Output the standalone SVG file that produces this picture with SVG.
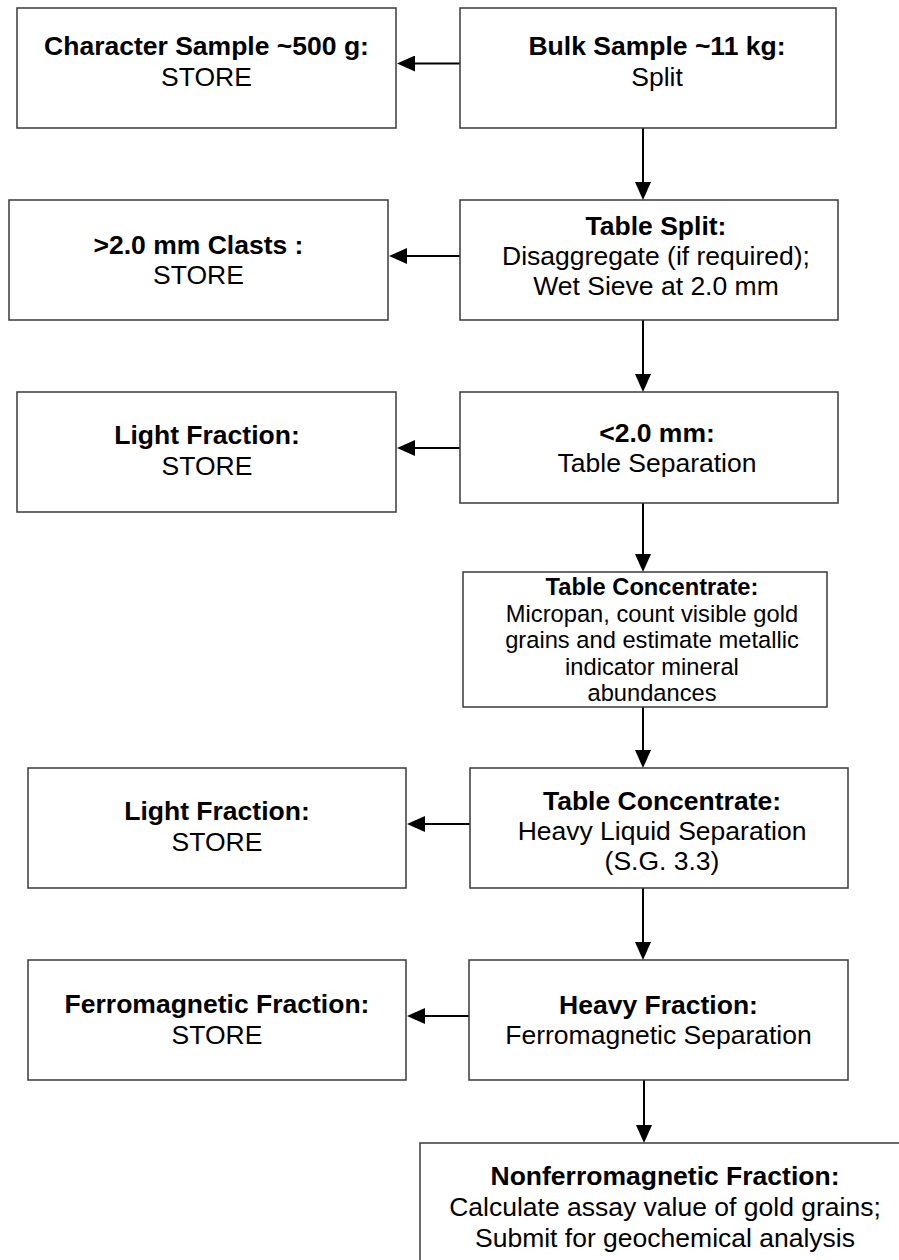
<svg xmlns="http://www.w3.org/2000/svg" width="899" height="1260" viewBox="0 0 899 1260">
<style>
.box{fill:#fff;stroke:#3a3a3a;stroke-width:1.5}
.t{font-family:"Liberation Sans",Arial,sans-serif;font-size:26.5px;fill:#000;text-anchor:middle}
.s{font-size:23.7px}
.b{font-weight:bold}
.c{fill:none;stroke:#000;stroke-width:2}
</style>
<defs>
<marker id="ah" viewBox="0 0 18 16" refX="8" refY="8" markerWidth="18" markerHeight="16" markerUnits="userSpaceOnUse" orient="auto">
<path d="M0,0 L18,8 L0,16 z" fill="#000"/>
</marker>
</defs>
<rect width="899" height="1260" fill="#fff"/>
<g id="connectors">
<line class="c" x1="460" y1="63.5" x2="407" y2="63.5" marker-end="url(#ah)"/>
<line class="c" x1="643" y1="128" x2="643" y2="190" marker-end="url(#ah)"/>
<line class="c" x1="460" y1="256" x2="399" y2="256" marker-end="url(#ah)"/>
<line class="c" x1="643" y1="320" x2="643" y2="382" marker-end="url(#ah)"/>
<line class="c" x1="460" y1="448" x2="407" y2="448" marker-end="url(#ah)"/>
<line class="c" x1="643" y1="503" x2="643" y2="562" marker-end="url(#ah)"/>
<line class="c" x1="643" y1="707" x2="643" y2="758" marker-end="url(#ah)"/>
<line class="c" x1="470" y1="824" x2="417" y2="824" marker-end="url(#ah)"/>
<line class="c" x1="643" y1="888" x2="643" y2="950" marker-end="url(#ah)"/>
<line class="c" x1="469" y1="1016" x2="417" y2="1016" marker-end="url(#ah)"/>
<line class="c" x1="644" y1="1080" x2="644" y2="1133" marker-end="url(#ah)"/>
</g>
<g id="character">
<rect class="box" x="17" y="8" width="379" height="120"/>
<text class="t b" x="206.5" y="55">Character Sample ~500 g:</text>
<text class="t" x="206.5" y="86">STORE</text>
</g>
<g id="bulk">
<rect class="box" x="460" y="8" width="376" height="120"/>
<text class="t b" x="657" y="55">Bulk Sample ~11 kg:</text>
<text class="t" x="657" y="86">Split</text>
</g>
<g id="clasts">
<rect class="box" x="9" y="200" width="379" height="120"/>
<text class="t b" x="198.5" y="254">&gt;2.0 mm Clasts :</text>
<text class="t" x="198.5" y="284">STORE</text>
</g>
<g id="tablesplit">
<rect class="box" x="460" y="200" width="378" height="120"/>
<text class="t b" x="656" y="235">Table Split:</text>
<text class="t" x="656" y="265">Disaggregate (if required);</text>
<text class="t" x="656" y="295">Wet Sieve at 2.0 mm</text>
</g>
<g id="light1">
<rect class="box" x="17" y="392" width="379" height="120"/>
<text class="t b" x="207" y="444">Light Fraction:</text>
<text class="t" x="207" y="475">STORE</text>
</g>
<g id="lt2mm">
<rect class="box" x="460" y="392" width="378" height="111"/>
<text class="t b" x="657" y="442">&lt;2.0 mm:</text>
<text class="t" x="657" y="472">Table Separation</text>
</g>
<g id="tableconc1">
<rect class="box" x="463" y="572" width="364" height="135"/>
<text class="t s b" x="652" y="595">Table Concentrate:</text>
<text class="t s" x="652" y="621.6">Micropan, count visible gold</text>
<text class="t s" x="652" y="648.2">grains and estimate metallic</text>
<text class="t s" x="652" y="674.8">indicator mineral</text>
<text class="t s" x="652" y="701.4">abundances</text>
</g>
<g id="light2">
<rect class="box" x="28" y="768" width="378" height="120"/>
<text class="t b" x="217" y="820">Light Fraction:</text>
<text class="t" x="217" y="851">STORE</text>
</g>
<g id="tableconc2">
<rect class="box" x="470" y="768" width="378" height="120"/>
<text class="t b" x="662" y="810">Table Concentrate:</text>
<text class="t" x="662" y="840">Heavy Liquid Separation</text>
<text class="t" x="662" y="870">(S.G. 3.3)</text>
</g>
<g id="ferro">
<rect class="box" x="28" y="960" width="378" height="120"/>
<text class="t b" x="217" y="1013">Ferromagnetic Fraction:</text>
<text class="t" x="217" y="1044">STORE</text>
</g>
<g id="heavy">
<rect class="box" x="469" y="960" width="379" height="120"/>
<text class="t b" x="658.5" y="1014">Heavy Fraction:</text>
<text class="t" x="658.5" y="1044">Ferromagnetic Separation</text>
</g>
<g id="nonferro">
<rect class="box" x="420" y="1143" width="490" height="130"/>
<text class="t b" x="665" y="1185">Nonferromagnetic Fraction:</text>
<text class="t" x="665" y="1216">Calculate assay value of gold grains;</text>
<text class="t" x="665" y="1247">Submit for geochemical analysis</text>
</g>
</svg>
